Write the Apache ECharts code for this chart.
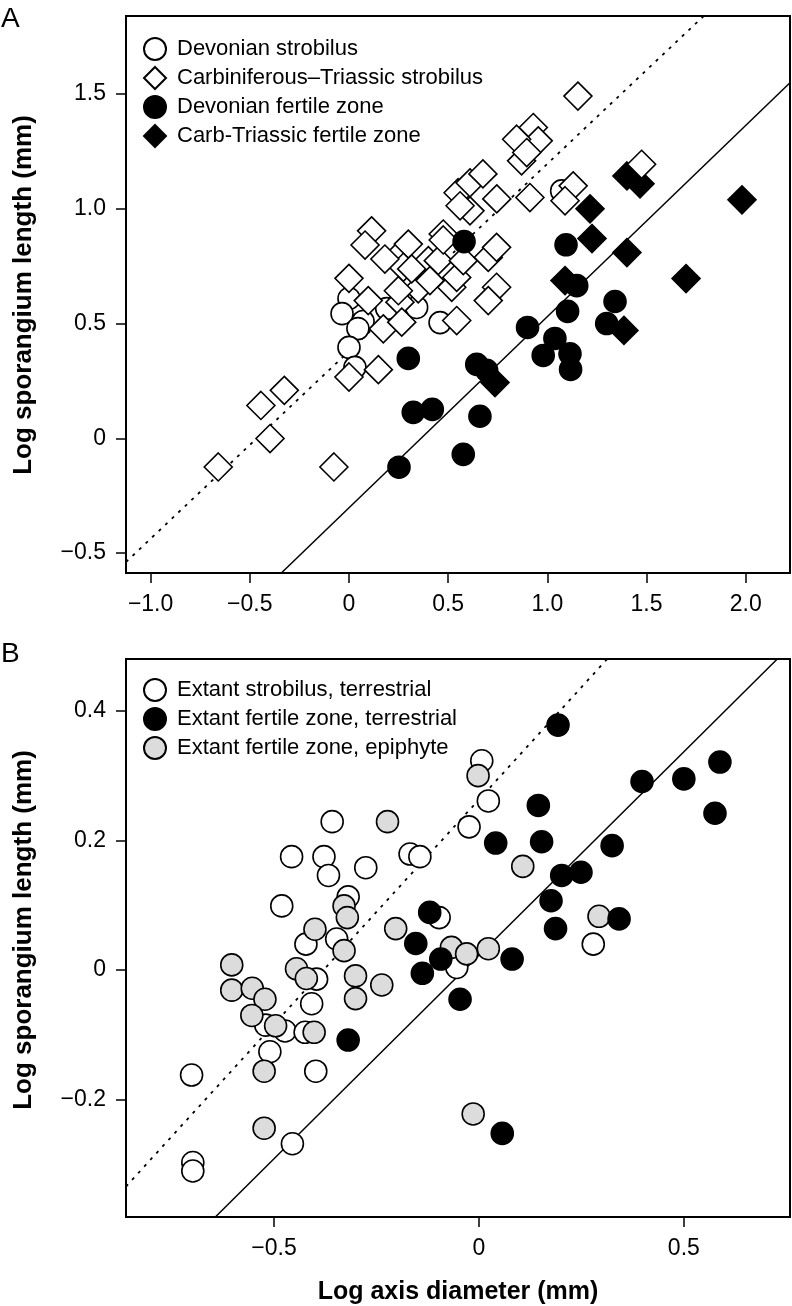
<!DOCTYPE html>
<html>
<head>
<meta charset="utf-8">
<script src="https://cdn.jsdelivr.net/npm/echarts@6/dist/echarts.min.js"></script>
<style>
html,body{margin:0;padding:0;background:#fff;}
#chart{width:792px;height:1306px;}
</style>
</head>
<body>
<div id="chart"></div>
<script>
// ---------- Panel A data ----------
const xRangeA = [-1.124, 2.223];
const yRangeA = [-0.587, 1.840];
const xTicksA = [-1, -0.5, 0, 0.5, 1, 1.5, 2];
const xTickLabelsA = ['\u22121.0', '\u22120.5', '0', '0.5', '1.0', '1.5', '2.0'];
const yTicksA = [-0.5, 0, 0.5, 1, 1.5];
const yTickLabelsA = ['\u22120.5', '0', '0.5', '1.0', '1.5'];

const devonianStrobilus = [
  [0.0,0.609],[-0.035,0.543],[0.071,0.509],[0.045,0.478],[0.0,0.396],
  [0.03,0.309],[0.19,0.565],[0.341,0.57],[0.459,0.504],[1.072,1.078]
];
const carbTriassicStrobilus = [
  [-0.659,-0.125],[-0.444,0.143],[-0.326,0.209],[-0.398,-0.001],[-0.076,-0.125],
  [0.0,0.267],[0.148,0.299],[0.173,0.477],[0.097,0.6],[0.0,0.697],
  [0.114,0.904],[0.081,0.842],[0.24,0.788],[0.299,0.846],[0.274,0.745],
  [0.257,0.593],[0.266,0.506],[0.349,0.651],[0.4,0.774],[0.45,0.774],
  [0.408,0.687],[0.475,0.89],[0.475,0.864],[0.518,0.658],[0.543,0.701],
  [0.576,0.774],[0.543,0.513],[0.61,0.991],[0.55,1.07],[0.61,1.113],
  [0.675,1.152],[0.56,1.013],[0.745,1.043],[0.912,1.049],[0.87,1.209],
  [0.702,0.788],[0.744,0.832],[0.744,0.658],[0.702,0.6],
  [0.181,0.781],[0.316,0.738],[0.249,0.643],
  [1.154,1.491],[0.929,1.354],[0.954,1.296],[0.845,1.303],[0.896,1.245],
  [1.475,1.194],[1.13,1.10],[1.089,1.035]
];
const devonianFertile = [
  [0.58,0.857],[1.094,0.843],[1.148,0.665],[1.341,0.596],[1.102,0.553],
  [1.299,0.5],[0.9,0.483],[1.038,0.435],[0.979,0.361],[1.114,0.368],
  [1.117,0.3],[0.299,0.348],[0.644,0.322],[0.694,0.296],[0.324,0.113],
  [0.42,0.126],[0.66,0.096],[0.576,-0.07],[0.252,-0.126]
];
const carbTriassicFertile = [
  [1.401,1.143],[1.467,1.109],[1.215,1.0],[1.225,0.87],[1.401,0.809],
  [1.699,0.696],[1.981,1.039],[1.089,0.687],[1.386,0.47],[0.736,0.243]
];
const fitStrobilusA = [[-1.124,-0.539],[1.788,1.84]];
const fitFertileA = [[-0.341,-0.587],[2.223,1.549]];

// ---------- Panel B data ----------
const xRangeB = [-0.861, 0.759];
const yRangeB = [-0.381, 0.480];
const xTicksB = [-0.5, 0, 0.5];
const xTickLabelsB = ['\u22120.5', '0', '0.5'];
const yTicksB = [-0.2, 0, 0.2, 0.4];
const yTickLabelsB = ['\u22120.2', '0', '0.2', '0.4'];

const extantStrobilusTerr = [
  [-0.358,0.229],[-0.457,0.175],[-0.378,0.175],[-0.367,0.146],[-0.276,0.158],
  [-0.481,0.099],[-0.319,0.113],[-0.422,0.04],[-0.347,0.048],[0.007,0.323],
  [0.023,0.261],[-0.024,0.221],[-0.168,0.179],[-0.144,0.175],[-0.097,0.081],
  [-0.396,-0.014],[-0.408,-0.052],[-0.054,0.004],[-0.473,-0.094],[-0.51,-0.126],
  [-0.701,-0.162],[-0.455,-0.268],[-0.698,-0.297],[-0.698,-0.31],[-0.424,-0.096],
  [-0.398,-0.156],[0.279,0.04],[-0.52,-0.085]
];
const extantFertileEpi = [
  [-0.223,0.229],[-0.329,0.099],[-0.321,0.081],[-0.4,0.063],[-0.329,0.03],
  [-0.203,0.064],[-0.002,0.3],[0.107,0.16],[0.293,0.083],[-0.067,0.035],
  [-0.03,0.025],[0.023,0.033],[-0.603,0.008],[-0.603,-0.031],[-0.553,-0.028],
  [-0.522,-0.045],[-0.445,0.002],[-0.421,-0.013],[-0.301,-0.009],[-0.237,-0.023],
  [-0.301,-0.044],[-0.554,-0.07],[-0.496,-0.086],[-0.402,-0.096],[-0.524,-0.156],
  [-0.524,-0.244],[-0.014,-0.222]
];
const extantFertileTerr = [
  [0.193,0.378],[0.588,0.321],[0.398,0.291],[0.5,0.295],[0.576,0.242],
  [0.145,0.254],[0.041,0.196],[0.153,0.198],[0.325,0.192],[0.202,0.146],
  [0.249,0.151],[0.176,0.107],[0.187,0.064],[0.342,0.079],[-0.12,0.089],
  [-0.154,0.041],[-0.093,0.017],[-0.138,-0.005],[-0.046,-0.045],[0.081,0.017],
  [-0.319,-0.108],[0.057,-0.252]
];
const fitStrobilusB = [[-0.861,-0.334],[0.313,0.48]];
const fitFertileB = [[-0.643,-0.381],[0.728,0.48]];

const namesA = ['Devonian strobilus', 'Carbiniferous\u2013Triassic strobilus', 'Devonian fertile zone', 'Carb-Triassic fertile zone'];
const namesB = ['Extant strobilus, terrestrial', 'Extant fertile zone, terrestrial', 'Extant fertile zone, epiphyte'];
const yTitle = 'Log sporangium length (mm)';
const xTitle = 'Log axis diameter (mm)';

// ---------- chart ----------
const FONT = '"Liberation Sans", Arial, Helvetica, sans-serif';
function labelFmt(ticks, labels) {
  return function (v) {
    for (let i = 0; i < ticks.length; i++) if (Math.abs(ticks[i] - v) < 1e-9) return labels[i];
    return '';
  };
}
function axisCfg(gi, range, ticks, labels, margin) {
  return {
    type: 'value', gridIndex: gi, min: range[0], max: range[1],
    splitLine: { show: false },
    axisLine: { show: false, onZero: false },
    axisTick: { show: true, length: 10, inside: false, customValues: ticks, lineStyle: { color: '#000', width: 1.5 } },
    axisLabel: { customValues: ticks, formatter: labelFmt(ticks, labels), margin: margin, color: '#000', fontSize: 23, fontFamily: FONT }
  };
}
function scatter(name, data, xi, symbol, size, fill) {
  return {
    type: 'scatter', name: name, xAxisIndex: xi, yAxisIndex: xi, data: data,
    symbol: symbol, symbolSize: size, z: 3,
    itemStyle: { color: fill, borderColor: '#000', borderWidth: 1.6, opacity: 1 },
    emphasis: { disabled: true }, animation: false
  };
}
function fitLine(data, xi, dotted) {
  return {
    type: 'line', xAxisIndex: xi, yAxisIndex: xi, data: data, symbol: 'none', showSymbol: false,
    clip: true, z: 2, silent: true, animation: false,
    lineStyle: dotted ? { color: '#000', width: 1.8, type: [3, 6] } : { color: '#000', width: 1.5, type: 'solid' }
  };
}
function yTitleText(cy) {
  return {
    type: 'text', x: 24, y: cy, rotation: Math.PI / 2,
    style: { text: yTitle, font: 'bold 26px ' + FONT, fill: '#000', align: 'center', verticalAlign: 'middle' }
  };
}

const xA = axisCfg(0, xRangeA, xTicksA, xTickLabelsA, 20);
const xB = axisCfg(1, xRangeB, xTicksB, xTickLabelsB, 20);
Object.assign(xB, { name: xTitle, nameLocation: 'middle', nameGap: 63,
  nameTextStyle: { color: '#000', fontSize: 25, fontWeight: 'bold', fontFamily: FONT } });
const yA = axisCfg(0, yRangeA, yTicksA, yTickLabelsA, 20);
const yB = axisCfg(1, yRangeB, yTicksB, yTickLabelsB, 20);

const chart = echarts.init(document.getElementById('chart'), null, { renderer: 'canvas' });
chart.setOption({
  backgroundColor: '#fff',
  animation: false,
  grid: [
    { left: 126, top: 16, width: 664, height: 557, show: true, borderColor: '#000', borderWidth: 2, backgroundColor: 'transparent', containLabel: false },
    { left: 126, top: 659, width: 664, height: 558, show: true, borderColor: '#000', borderWidth: 2, backgroundColor: 'transparent', containLabel: false }
  ],
  xAxis: [xA, xB],
  yAxis: [yA, yB],
  legend: [
    {
      data: namesA, orient: 'vertical', left: 138, top: 32, itemWidth: 22, itemHeight: 22, itemGap: 5,
      textStyle: { color: '#000', fontSize: 22, fontFamily: FONT, padding: [0, 0, 0, 6] },
      selectedMode: false
    },
    {
      data: namesB, orient: 'vertical', left: 138, top: 673, itemWidth: 22, itemHeight: 22, itemGap: 5,
      textStyle: { color: '#000', fontSize: 22, fontFamily: FONT, padding: [0, 0, 0, 6] },
      selectedMode: false
    }
  ],
  graphic: [
    { type: 'text', left: 1, top: 5, style: { text: 'A', fontSize: 28, fontFamily: FONT, fill: '#000' } },
    { type: 'text', left: 1, top: 640, style: { text: 'B', fontSize: 28, fontFamily: FONT, fill: '#000' } },
    yTitleText(295),
    yTitleText(930)
  ],
  series: [
    fitLine(fitStrobilusA, 0, true),
    fitLine(fitFertileA, 0, false),
    scatter(namesA[0], devonianStrobilus, 0, 'circle', 22, '#fff'),
    scatter(namesA[3], carbTriassicFertile, 0, 'diamond', 28, '#000'),
    scatter(namesA[1], carbTriassicStrobilus, 0, 'diamond', 28, '#fff'),
    scatter(namesA[2], devonianFertile, 0, 'circle', 22, '#000'),
    fitLine(fitStrobilusB, 1, true),
    fitLine(fitFertileB, 1, false),
    scatter(namesB[0], extantStrobilusTerr, 1, 'circle', 22, '#fff'),
    scatter(namesB[2], extantFertileEpi, 1, 'circle', 22, '#dcdcdc'),
    scatter(namesB[1], extantFertileTerr, 1, 'circle', 22, '#000')
  ]
});
</script>
</body>
</html>
